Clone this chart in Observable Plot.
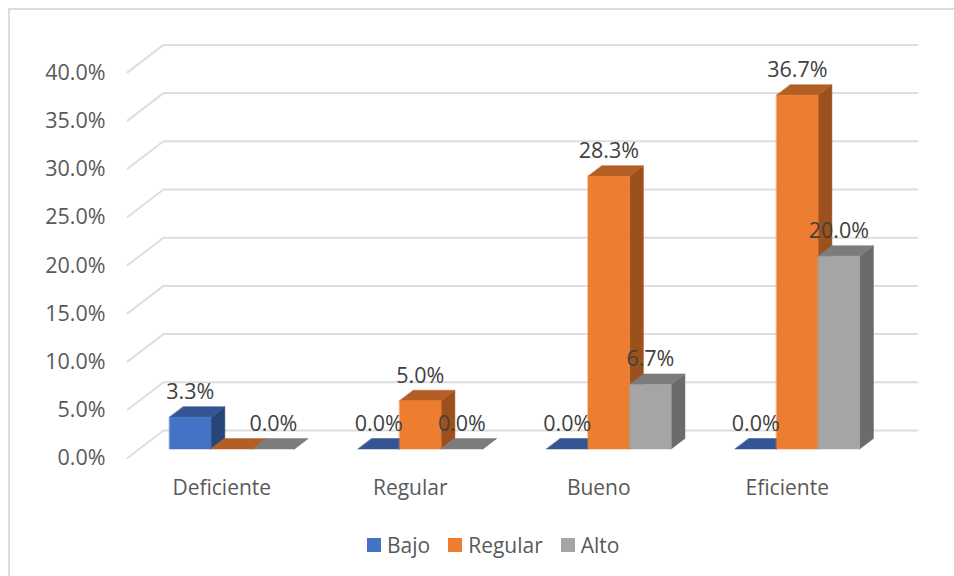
<!DOCTYPE html>
<html>
<head>
<meta charset="utf-8">
<script src="https://cdn.jsdelivr.net/npm/d3@7"></script>
<script src="https://cdn.jsdelivr.net/npm/@observablehq/plot@0.6"></script>
<style>
html,body{margin:0;padding:0;background:#fff;overflow:hidden;width:954px;height:576px}
body{position:relative;font-family:"Open Sans",sans-serif}
#frame{position:absolute;left:8px;top:8px;width:1000px;height:700px;border:2px solid #dcdcdc;box-sizing:border-box;pointer-events:none}
#chart svg{display:block}
#legend{display:flex;align-items:center;height:51px;padding-left:367px;font-size:21px;color:#595959;box-sizing:border-box;padding-bottom:20px;padding-top:9px}
#legend .item{display:flex;align-items:center;margin-right:18px}
#legend .sw{width:14px;height:14px;margin-right:6px;display:inline-block}
</style>
</head>
<body>
<div id="frame"></div>
<div id="chart"></div>
<div id="legend"></div>
<script>
const categories = ["Deficiente", "Regular", "Bueno", "Eficiente"];
const seriesNames = ["Bajo", "Regular", "Alto"];
const bajo = [3.3, 0, 0, 0];
const regular = [0, 5.0, 28.3, 36.7];
const alto = [0, 0, 6.7, 20.0];
const hiddenLabels = ["Deficiente|Regular"];
const yTicks = [0, 5, 10, 15, 20, 25, 30, 35, 40];
const frontColors = ["#4472c4", "#ed7d31", "#a5a5a5"];
const topColors = ["#335593", "#b25e25", "#7c7c7c"];
const sideColors = ["#284577", "#9c511c", "#6b6b6b"];

// Oblique projection: depth is expressed in scale units (categories and percent)
const wallDX = 36 / 188.5;
const wallDY = 2.853;
const barW = 0.2205;
const depth0 = 0.327;
const depth1 = 0.71;
const groupCenter = 0.491;

const values = [bajo, regular, alto];
const grid = yTicks.flatMap(v => [
  {id: v, x: 0, y: v},
  {id: v, x: wallDX, y: v + wallDY},
  {id: v, x: categories.length + wallDX, y: v + wallDY}
]);

const faces = [];
const labels = [];
categories.forEach((cat, k) => {
  seriesNames.forEach((name, s) => {
    const v = values[s][k];
    const x0 = k + groupCenter + (s - 1.5) * barW + depth0 * wallDX;
    const x1 = x0 + barW;
    const b0 = depth0 * wallDY;
    const ox = (depth1 - depth0) * wallDX;
    const oy = (depth1 - depth0) * wallDY;
    const t0 = b0 + v;
    const poly = (face, color, pts) => pts.forEach(([x, y]) => faces.push({id: `${k}-${s}-${face}`, color, x, y}));
    poly("side", sideColors[s], [[x1, b0], [x1 + ox, b0 + oy], [x1 + ox, t0 + oy], [x1, t0]]);
    poly("top", topColors[s], [[x0, t0], [x1, t0], [x1 + ox, t0 + oy], [x0 + ox, t0 + oy]]);
    if (v > 0) poly("front", frontColors[s], [[x0, b0], [x1, b0], [x1, t0], [x0, t0]]);
    if (!hiddenLabels.includes(`${cat}|${name}`)) {
      labels.push({x: (x0 + x1) / 2, y: t0, text: v.toFixed(1) + "%"});
    }
  });
});

const plot = Plot.plot({
  width: 954,
  height: 525,
  marginLeft: 127,
  marginRight: 73,
  marginTop: 71.9,
  marginBottom: 67.5,
  style: {fontFamily: '"Open Sans", sans-serif', fontSize: "21px", background: "transparent", overflow: "visible"},
  x: {domain: [0, categories.length]},
  y: {domain: [0, 40]},
  color: {type: "identity"},
  marks: [
    Plot.line(grid, {x: "x", y: "y", z: "id", stroke: "#dedede", strokeWidth: 2}),
    Plot.line(faces, {x: "x", y: "y", z: "id", fill: "color", stroke: "color", strokeWidth: 0.5, curve: "linear-closed"}),
    Plot.axisY({ticks: yTicks, tickSize: 0, tickPadding: 22, dy: 0.5, label: null, color: "#595959", fontSize: 21.5,
      tickFormat: d => d.toFixed(1) + "%"}),
    Plot.axisX({ticks: categories.map((c, i) => i + 0.5), tickSize: 0, tickPadding: 22, label: null, color: "#595959", fontSize: 21,
      tickFormat: d => categories[Math.floor(d)]}),
    Plot.text(labels, {x: "x", y: "y", text: "text", dy: -25, fill: "#404040", fontSize: 21.5})
  ]
});
document.getElementById("chart").appendChild(plot);

const legend = document.getElementById("legend");
seriesNames.forEach((name, i) => {
  const item = document.createElement("div");
  item.className = "item";
  const sw = document.createElement("span");
  sw.className = "sw";
  sw.style.background = frontColors[i];
  item.appendChild(sw);
  item.appendChild(document.createTextNode(name));
  legend.appendChild(item);
});
</script>
</body>
</html>
